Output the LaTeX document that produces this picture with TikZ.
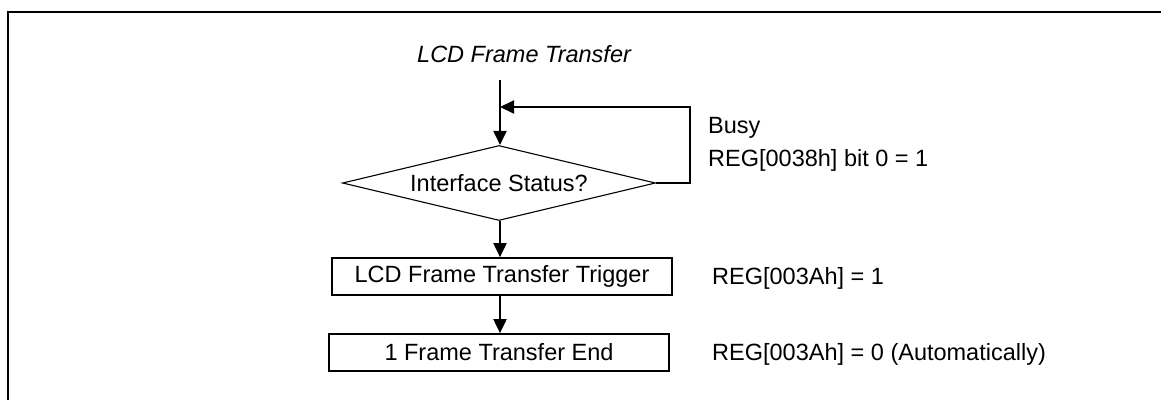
\documentclass[tikz,border=0pt]{standalone}
\usepackage{fontspec}
\setmainfont{Liberation Sans}
\usetikzlibrary{shapes.geometric,arrows.meta}
\tikzset{
  txt/.style={font=\fontsize{23.5}{28}\selectfont, inner sep=0pt},
  decision/.style={diamond, draw, line width=1.1pt, inner sep=0pt, aspect=4.17,
    minimum width=313pt, minimum height=75pt, font=\fontsize{23.5}{28}\selectfont},
  procbox/.style={rectangle, draw, line width=1.7pt, inner sep=0pt,
    minimum width=340pt, minimum height=37pt, font=\fontsize{23.5}{28}\selectfont},
  flow/.style={line width=1.9pt, -{Triangle[length=14pt,width=13pt]}},
}
\begin{document}
\begin{tikzpicture}[x=1pt,y=-1pt]
\useasboundingbox (0,0) rectangle (1161,400);
\draw[line width=1.5pt] (8,400) -- (8,12) -- (1161,12);
\node[txt, anchor=base west, font=\fontsize{23.5}{28}\selectfont\itshape] (title) at (417,62) {LCD Frame Transfer};
\coordinate (start) at (500,80);
\coordinate (loopin) at (500,107);
\node[decision] (dia) at (499,183) {Interface Status?};
\node[procbox] (b1) at (502,276.5) {LCD Frame Transfer Trigger};
\node[procbox] (b2) at (499,352.5) {1 Frame Transfer End};
\draw[flow] (start) -- (start |- dia.north);
\draw[flow] (dia.east) -- ++(34,0) |- (loopin);
\draw[flow] (start |- dia.south) -- (start |- b1.north);
\draw[flow] (start |- b1.south) -- (start |- b2.north);
\node[txt, anchor=base west] (busy) at (708,133) {Busy};
\node[txt, anchor=base west] (reg1) at (708,166) {REG[0038h] bit 0 = 1};
\node[txt, anchor=base west] (reg2) at (712,284.5) {REG[003Ah] = 1};
\node[txt, anchor=base west] (reg3) at (712,360.5) {REG[003Ah] = 0 (Automatically)};
\end{tikzpicture}
\end{document}
